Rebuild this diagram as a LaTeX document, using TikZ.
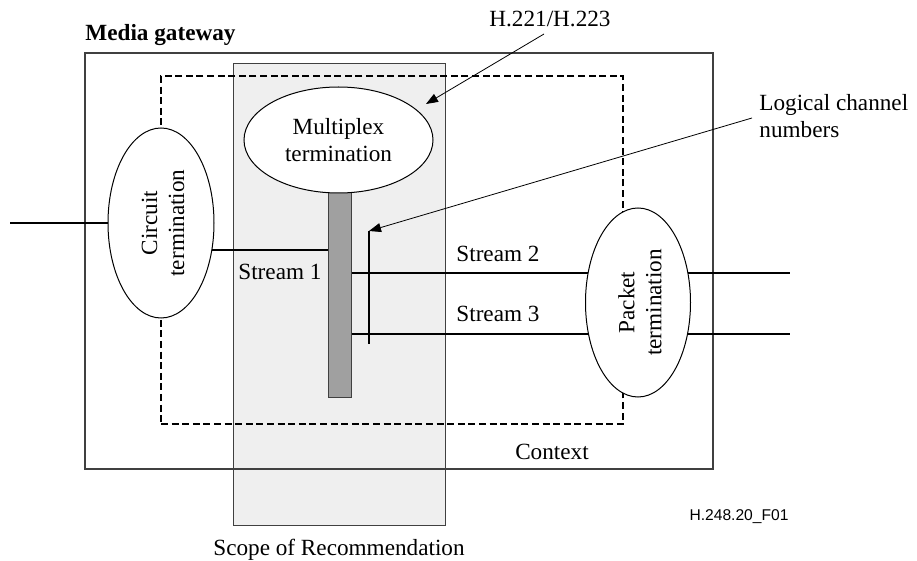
\documentclass[tikz,border=0pt]{standalone}
\usepackage{fontspec}
\setmainfont{Liberation Serif}
\newfontfamily\figsans{Liberation Sans}
\usetikzlibrary{shapes.geometric,arrows.meta}
\definecolor{scopegray}{HTML}{EFEFEF}
\definecolor{bargray}{HTML}{A0A0A0}
\definecolor{edgegray}{HTML}{404040}
\begin{document}
\begin{tikzpicture}[x=0.5pt,y=-0.5pt,
  txt/.style={font=\fontsize{11.6}{13.5}\selectfont, inner sep=0pt},
  term/.style={ellipse, draw=black, line width=0.5pt, fill=white, inner sep=0pt},
  stream/.style={line width=1pt, black},
  ctxbox/.style={line width=0.75pt, dash pattern=on 3.5pt off 1.8pt},
  leader/.style={line width=0.4pt, -{Triangle[length=6pt,width=4.5pt]}}
]
\useasboundingbox (0,0) rectangle (917,561);

% scope of the recommendation (shaded band)
\node[draw=edgegray, fill=scopegray, line width=0.5pt, inner sep=0pt,
      minimum width=106pt, minimum height=231pt] (scope) at (339,295) {};

% media gateway box
\node[draw=edgegray, line width=0.6pt, inner sep=0pt,
      minimum width=314pt, minimum height=208pt] (mg) at (399,261) {};

% context (dashed)
\node[draw=black, ctxbox, inner sep=0pt,
      minimum width=231pt, minimum height=174pt] (ctx) at (392,250) {};

% multiplex bar
\node[draw=edgegray, fill=bargray, line width=0.5pt, inner sep=0pt,
      minimum width=11.5pt, minimum height=102.5pt] (bar) at (339.5,295.5) {};

% stream end points
\coordinate (cin) at (10,223);
\coordinate (s2end) at (790,273);
\coordinate (s3end) at (790,334);
\coordinate (lcTop) at (369,231);
\coordinate (lcBot) at (369,344);

% streams
\draw[stream] (s2end -| bar.east) -- (s2end);
\draw[stream] (s3end -| bar.east) -- (s3end);
\draw[stream] (lcTop) -- (lcBot);

% terminations
\node[term, minimum width=53pt, minimum height=95pt] (ct) at (161,223) {};
\node[txt, rotate=90, align=center] (ctlabel) at (163,223) {Circuit\\termination};
\node[term, minimum width=52.5pt, minimum height=94.5pt] (pt) at (638,302.5) {};
\node[txt, rotate=90, align=center] (ptlabel) at (640,302.5) {Packet\\termination};
\node[term, minimum width=94.5pt, minimum height=53pt, txt, align=center] (mx) at (338.5,140) {Multiplex\\termination};

\draw[stream] (cin) -- (ct.west);
\draw[stream] (ct.-28) -- (ct.-28 -| bar.west);

% labels
\node[txt, anchor=base west, font=\fontsize{11.6}{13.5}\selectfont\bfseries] (mgl) at (85,41) {Media gateway};
\node[txt, anchor=base west] (st1) at (238,280) {Stream 1};
\node[txt, anchor=base west] (st2) at (456,262) {Stream 2};
\node[txt, anchor=base west] (st3) at (456,322) {Stream 3};
\node[txt, anchor=base] (ctxl) at (552,460) {Context};
\node[txt, anchor=base] (scl) at (339,556) {Scope of Recommendation};
\node[txt, anchor=base] (hl) at (550,27) {H.221/H.223};
\node[txt, anchor=north west, align=left] (lcn) at (759,94) {Logical channel\\numbers};
\node[inner sep=0pt, anchor=center, font=\figsans\fontsize{7.8}{9}\selectfont] (fig) at (739,517) {H.248.20\_F01};

% leaders
\coordinate (hlFrom) at (544,34);
\coordinate (hlTo) at (426,104);
\coordinate (lcFrom) at (752,118);
\draw[leader] (hlFrom) -- (hlTo);
\draw[leader] (lcFrom) -- (lcTop);
\end{tikzpicture}
\end{document}
